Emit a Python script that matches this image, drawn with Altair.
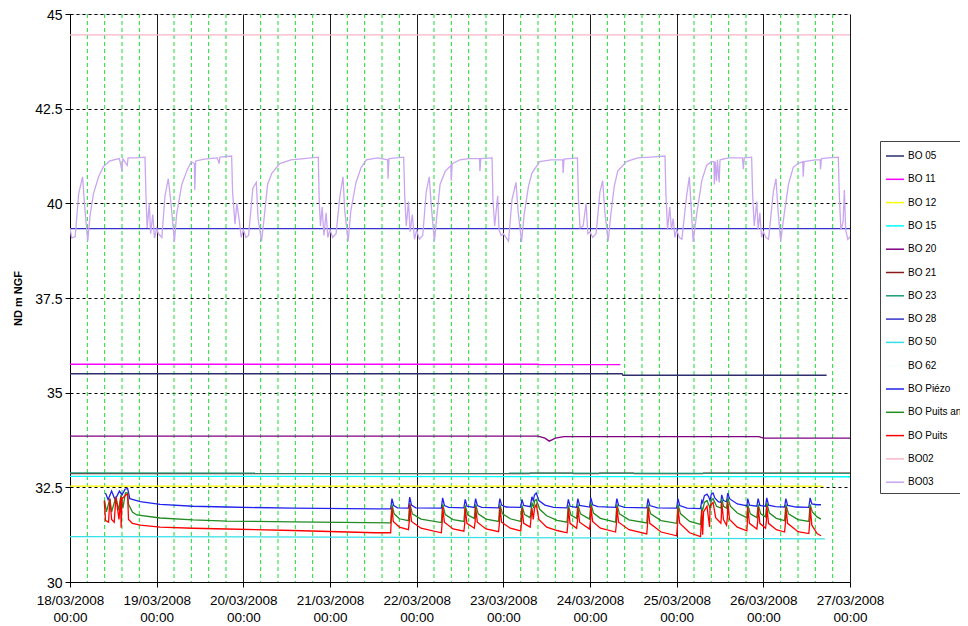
import altair as alt
import pandas as pd

# ---------------- data (time in days since 18/03/2008 00:00) ----------------
date_labels = ["18/03/2008", "19/03/2008", "20/03/2008", "21/03/2008", "22/03/2008",
               "23/03/2008", "24/03/2008", "25/03/2008", "26/03/2008", "27/03/2008"]
y_ticks = [30, 32.5, 35, 37.5, 40, 42.5, 45]

series_names = ["BO 05", "BO 11", "BO 12", "BO 15", "BO 20", "BO 21", "BO 23", "BO 28",
                "BO 50", "BO 62", "BO Piézo", "BO Puits ancien", "BO Puits", "BO02", "BO03"]
series_colors = ["#2E2E6E", "#FF00FF", "#FFFF00", "#00FFFF", "#800080", "#8B1A1A", "#1E9A7A",
                 "#3333CC", "#33E0E8", "#F2FFFF", "#2222EE", "#228B22", "#FF0000", "#F7B6C6",
                 "#C9A6F0"]

bo05 = [(0, 35.5), (6.37, 35.5), (6.38, 35.46), (8.73, 35.46)]
bo11 = [(0, 35.75), (5.4, 35.75), (5.42, 35.74), (6.35, 35.74)]
bo12 = [(0, 32.53), (8.69, 32.53)]
bo15 = [(0, 32.79), (9.0, 32.78)]
bo20 = [(0, 33.85), (5.40, 33.85), (5.48, 33.8), (5.53, 33.72), (5.60, 33.8), (5.70, 33.84),
        (7.95, 33.84), (8.0, 33.8), (9.0, 33.8)]
bo21 = [(0, 32.86), (5.30, 32.86), (5.31, 32.875), (5.80, 32.875), (5.81, 32.86), (6.10, 32.86),
        (6.11, 32.875), (6.50, 32.875), (6.51, 32.86), (7.30, 32.86), (7.31, 32.875), (9.0, 32.875)]
bo23 = [(0, 32.88), (9.0, 32.87)]
bo28 = [(0, 39.33), (9.0, 39.33)]
bo50 = [(0, 31.2), (4.0, 31.18), (8.71, 31.14)]
bo02 = [(0, 44.45), (9.0, 44.45)]

bo_piezo = [
    (0.41, 32.35), (0.44, 32.17), (0.48, 32.4), (0.52, 32.17), (0.57, 32.4), (0.60, 32.3),
    (0.635, 32.45), (0.665, 32.47), (0.69, 32.2), (0.81, 32.12), (1.04, 32.05), (1.42, 32.0),
    (1.81, 31.98), (2.57, 31.95), (3.52, 31.93), (3.70, 31.93),
    (3.715, 32.2), (3.735, 32.02), (3.78, 31.96),
    (3.905, 31.95), (3.92, 32.24), (3.94, 32.03), (3.99, 31.96),
    (4.285, 31.95), (4.30, 32.22), (4.32, 32.02), (4.37, 31.97),
    (4.545, 31.96), (4.56, 32.18), (4.58, 32.0),
    (4.665, 31.97), (4.68, 32.2), (4.70, 32.02), (4.75, 31.97),
    (4.945, 31.96), (4.96, 32.2), (4.98, 32.03), (5.03, 31.98),
    (5.20, 31.97), (5.215, 32.18), (5.235, 32.02),
    (5.31, 31.99), (5.33, 32.25), (5.345, 32.15), (5.36, 32.3), (5.38, 32.35), (5.41, 32.15),
    (5.48, 32.03), (5.58, 31.97),
    (5.735, 31.96), (5.75, 32.18), (5.77, 32.0),
    (5.845, 31.97), (5.86, 32.2), (5.88, 32.02),
    (5.995, 31.98), (6.01, 32.22), (6.03, 32.04), (6.09, 31.99),
    (6.295, 31.97), (6.31, 32.2), (6.33, 32.02), (6.40, 31.97),
    (6.655, 31.96), (6.67, 32.2), (6.69, 32.02), (6.78, 31.96),
    (7.0, 31.95), (7.015, 32.2), (7.035, 32.02), (7.12, 31.95),
    (7.275, 31.94), (7.29, 32.15), (7.30, 32.1), (7.32, 32.28), (7.35, 32.32), (7.37, 32.25),
    (7.385, 32.15), (7.40, 32.32), (7.42, 32.35), (7.44, 32.22), (7.48, 32.12),
    (7.51, 32.1), (7.52, 32.3), (7.54, 32.15), (7.575, 32.12), (7.59, 32.35), (7.61, 32.2),
    (7.70, 32.06), (7.80, 32.02),
    (7.81, 32.0), (7.82, 32.2), (7.84, 32.03),
    (7.925, 32.0), (7.94, 32.2), (7.96, 32.02),
    (8.025, 32.0), (8.04, 32.22), (8.06, 32.03), (8.14, 31.99),
    (8.245, 31.98), (8.26, 32.2), (8.28, 32.02), (8.38, 31.98),
    (8.525, 31.97), (8.54, 32.22), (8.56, 32.06), (8.62, 32.04), (8.665, 32.04)]

bo_puits_ancien = [
    (0.40, 32.15), (0.42, 31.85), (0.46, 32.2), (0.48, 31.85), (0.53, 32.25), (0.56, 31.9),
    (0.59, 32.3), (0.61, 31.95), (0.64, 32.35), (0.665, 32.35), (0.675, 32.05), (0.72, 31.85),
    (0.77, 31.77), (1.04, 31.69), (1.42, 31.64), (1.81, 31.61), (2.57, 31.59), (3.70, 31.56),
    (3.715, 32.05), (3.74, 31.8), (3.80, 31.67), (3.905, 31.62),
    (3.92, 32.08), (3.95, 31.8), (4.05, 31.66), (4.285, 31.57),
    (4.30, 32.05), (4.33, 31.78), (4.42, 31.65), (4.545, 31.6),
    (4.56, 32.02), (4.59, 31.77), (4.665, 31.68),
    (4.68, 32.05), (4.71, 31.8), (4.80, 31.66), (4.945, 31.6),
    (4.96, 32.05), (4.99, 31.8), (5.08, 31.67), (5.20, 31.6),
    (5.215, 32.02), (5.245, 31.78), (5.31, 31.7),
    (5.33, 32.1), (5.35, 31.95), (5.36, 32.15), (5.38, 32.18), (5.42, 31.92), (5.5, 31.75),
    (5.62, 31.63), (5.735, 31.58),
    (5.75, 32.02), (5.78, 31.77), (5.845, 31.68),
    (5.86, 32.05), (5.89, 31.8), (5.995, 31.66),
    (6.01, 32.08), (6.04, 31.82), (6.12, 31.68), (6.295, 31.58),
    (6.31, 32.05), (6.34, 31.8), (6.45, 31.64), (6.655, 31.56),
    (6.67, 32.05), (6.70, 31.8), (6.82, 31.62), (7.0, 31.55),
    (7.015, 32.05), (7.045, 31.8), (7.15, 31.6), (7.275, 31.52),
    (7.29, 31.95), (7.30, 31.9), (7.32, 32.1), (7.35, 32.15), (7.385, 31.95), (7.40, 32.15),
    (7.42, 32.2), (7.46, 32.0), (7.51, 31.95),
    (7.52, 32.2), (7.54, 32.0), (7.575, 31.95), (7.59, 32.22), (7.62, 32.0), (7.70, 31.82),
    (7.81, 31.7),
    (7.82, 32.05), (7.85, 31.8), (7.925, 31.7),
    (7.94, 32.05), (7.97, 31.8), (8.025, 31.72),
    (8.04, 32.08), (8.07, 31.82), (8.15, 31.68), (8.245, 31.62),
    (8.26, 32.05), (8.29, 31.8), (8.40, 31.65), (8.525, 31.6),
    (8.54, 32.05), (8.565, 31.85), (8.62, 31.72), (8.665, 31.66)]

bo_puits = [
    (0.395, 32.15), (0.41, 31.62), (0.445, 31.58), (0.46, 32.2), (0.48, 31.65), (0.51, 31.58),
    (0.53, 32.25), (0.565, 31.65), (0.585, 32.25), (0.59, 31.43), (0.60, 32.2), (0.645, 32.3),
    (0.665, 32.32), (0.675, 31.65), (0.72, 31.55), (0.81, 31.5), (1.04, 31.45), (1.42, 31.42),
    (1.81, 31.4), (2.57, 31.36), (3.52, 31.3), (3.70, 31.3),
    (3.705, 31.55), (3.715, 31.97), (3.73, 31.6), (3.8, 31.45), (3.905, 31.38),
    (3.915, 31.6), (3.92, 32.05), (3.94, 31.6), (4.05, 31.42), (4.285, 31.3),
    (4.295, 31.6), (4.30, 31.98), (4.32, 31.58), (4.42, 31.4), (4.545, 31.34),
    (4.555, 31.55), (4.56, 31.95), (4.58, 31.55), (4.665, 31.42),
    (4.675, 31.6), (4.68, 31.98), (4.70, 31.58), (4.80, 31.4), (4.945, 31.33),
    (4.955, 31.55), (4.96, 31.98), (4.98, 31.58), (5.08, 31.42), (5.20, 31.35),
    (5.21, 31.55), (5.215, 31.95), (5.235, 31.55), (5.31, 31.45),
    (5.33, 31.95), (5.345, 31.65), (5.36, 31.95), (5.38, 32.05), (5.41, 31.65), (5.5, 31.45),
    (5.62, 31.36), (5.735, 31.3),
    (5.745, 31.55), (5.75, 31.95), (5.77, 31.55), (5.845, 31.42),
    (5.855, 31.6), (5.86, 31.98), (5.88, 31.58), (5.995, 31.4),
    (6.005, 31.6), (6.01, 32.0), (6.03, 31.6), (6.12, 31.42), (6.295, 31.32),
    (6.305, 31.55), (6.31, 31.98), (6.33, 31.58), (6.45, 31.38), (6.655, 31.27),
    (6.665, 31.55), (6.67, 31.98), (6.69, 31.55), (6.82, 31.32), (7.0, 31.22),
    (7.01, 31.5), (7.015, 31.95), (7.035, 31.55), (7.15, 31.3), (7.275, 31.2),
    (7.285, 31.6), (7.29, 31.9), (7.30, 31.25), (7.31, 31.85), (7.35, 32.0), (7.38, 31.45),
    (7.385, 32.0), (7.40, 32.05), (7.42, 32.1), (7.45, 31.7), (7.51, 31.55),
    (7.515, 31.7), (7.52, 32.1), (7.54, 31.65), (7.575, 31.5), (7.585, 31.7), (7.59, 32.12),
    (7.61, 31.65), (7.70, 31.45), (7.81, 31.35),
    (7.815, 31.55), (7.82, 31.98), (7.84, 31.55), (7.925, 31.4),
    (7.935, 31.6), (7.94, 31.98), (7.96, 31.55), (8.025, 31.42),
    (8.035, 31.6), (8.04, 32.0), (8.06, 31.55), (8.15, 31.38), (8.245, 31.32),
    (8.255, 31.55), (8.26, 31.98), (8.28, 31.55), (8.40, 31.33), (8.525, 31.28),
    (8.535, 31.55), (8.54, 31.98), (8.56, 31.5), (8.62, 31.28), (8.665, 31.22)]

bo03 = [
    # 18/03
    (0.00, 39.34), (0.02, 39.08), (0.06, 39.12), (0.10, 40.25), (0.145, 40.7), (0.17, 39.9),
    (0.205, 39.0), (0.23, 39.65), (0.27, 40.25), (0.33, 40.7), (0.385, 40.97), (0.46, 41.12),
    (0.57, 41.18), (0.60, 40.85), (0.61, 41.18), (0.66, 41.0), (0.67, 41.2), (0.76, 41.2),
    (0.865, 41.22), (0.877, 40.2), (0.89, 39.35), (0.915, 40.0), (0.93, 39.2), (0.955, 39.7),
    (0.975, 39.08),
    # 19/03
    (1.00, 39.34), (1.02, 39.2), (1.06, 39.1), (1.096, 40.2), (1.134, 40.65), (1.165, 40.0),
    (1.205, 38.99), (1.23, 39.7), (1.29, 40.5), (1.35, 40.87), (1.40, 41.1), (1.435, 41.05),
    (1.44, 40.35), (1.45, 41.12), (1.55, 41.17), (1.70, 41.2), (1.72, 41.05), (1.73, 41.22),
    (1.865, 41.25), (1.876, 40.3), (1.904, 39.45), (1.925, 40.0), (1.953, 39.55), (1.975, 39.1),
    # 20/03
    (2.00, 39.3), (2.03, 39.1), (2.06, 39.15), (2.11, 40.4), (2.15, 40.55), (2.17, 39.6),
    (2.21, 39.0), (2.235, 39.5), (2.28, 40.5), (2.33, 40.8), (2.42, 41.05), (2.55, 41.15),
    (2.70, 41.18), (2.865, 41.22), (2.875, 40.1), (2.89, 39.4), (2.91, 39.9), (2.93, 39.15),
    (2.955, 39.75), (2.975, 39.1),
    # 21/03
    (3.00, 39.3), (3.03, 39.1), (3.07, 39.2), (3.115, 40.2), (3.15, 40.7), (3.17, 39.8),
    (3.21, 39.0), (3.24, 39.8), (3.30, 40.55), (3.36, 40.95), (3.42, 41.15), (3.55, 41.2),
    (3.665, 41.15), (3.67, 40.65), (3.68, 41.18), (3.85, 41.22), (3.862, 40.2), (3.88, 39.4),
    (3.905, 40.05), (3.925, 39.25), (3.95, 39.7), (3.975, 39.05),
    # 22/03
    (4.00, 39.3), (4.03, 39.05), (4.07, 39.15), (4.11, 40.3), (4.145, 40.7), (4.17, 39.9),
    (4.205, 39.0), (4.23, 39.6), (4.27, 40.5), (4.33, 40.85), (4.395, 41.0), (4.40, 40.6),
    (4.41, 41.05), (4.50, 41.15), (4.60, 41.18), (4.725, 41.18), (4.73, 40.85), (4.74, 41.18),
    (4.87, 41.2), (4.88, 40.1), (4.90, 39.4), (4.935, 40.2), (4.95, 39.3), (4.975, 39.15),
    # 23/03
    (5.00, 39.2), (5.03, 39.1), (5.06, 39.0), (5.10, 40.1), (5.146, 40.55), (5.17, 39.8),
    (5.21, 38.98), (5.24, 39.7), (5.29, 40.45), (5.33, 40.8), (5.42, 41.1), (5.55, 41.15),
    (5.685, 41.15), (5.69, 40.8), (5.70, 41.17), (5.855, 41.2), (5.867, 40.1), (5.885, 39.35),
    (5.92, 39.4), (5.955, 40.0), (5.975, 39.2),
    # 24/03
    (6.00, 39.25), (6.03, 39.1), (6.07, 39.2), (6.115, 40.3), (6.146, 40.6), (6.17, 39.8),
    (6.21, 39.0), (6.24, 39.7), (6.28, 40.45), (6.32, 40.85), (6.42, 41.1), (6.55, 41.2),
    (6.70, 41.22), (6.865, 41.25), (6.877, 40.2), (6.895, 39.3), (6.92, 39.9), (6.94, 39.3),
    (6.96, 39.6), (6.98, 39.1),
    # 25/03
    (7.00, 39.3), (7.03, 39.1), (7.06, 39.05), (7.115, 40.2), (7.146, 40.7), (7.17, 39.8),
    (7.19, 38.98), (7.23, 39.7), (7.29, 40.6), (7.345, 41.0), (7.40, 41.1), (7.43, 41.1),
    (7.435, 40.5), (7.445, 41.1), (7.46, 40.6), (7.47, 41.15), (7.49, 40.55), (7.50, 41.15),
    (7.60, 41.2), (7.76, 41.2), (7.77, 40.9), (7.78, 41.2), (7.865, 41.22), (7.877, 40.2),
    (7.895, 39.4), (7.925, 40.05), (7.94, 39.3), (7.96, 39.75), (7.98, 39.1),
    # 26/03
    (8.00, 39.25), (8.03, 39.1), (8.06, 39.05), (8.115, 40.3), (8.146, 40.65), (8.17, 39.8),
    (8.20, 39.0), (8.24, 39.7), (8.29, 40.5), (8.345, 40.95), (8.40, 41.05), (8.455, 41.1),
    (8.46, 40.7), (8.47, 41.1), (8.60, 41.15), (8.655, 41.15), (8.66, 40.9), (8.67, 41.18),
    (8.75, 41.2), (8.865, 41.22), (8.877, 40.2), (8.895, 39.3), (8.92, 39.5), (8.935, 40.35),
    (8.95, 39.3), (8.975, 39.05), (9.0, 39.12)]

series_data = {
    "BO 05": bo05, "BO 11": bo11, "BO 12": bo12, "BO 15": bo15, "BO 20": bo20,
    "BO 21": bo21, "BO 23": bo23, "BO 28": bo28, "BO 50": bo50, "BO 62": [],
    "BO Piézo": bo_piezo, "BO Puits ancien": bo_puits_ancien, "BO Puits": bo_puits,
    "BO02": bo02, "BO03": bo03,
}

rows = []
for k, name in enumerate(series_names):
    for i, (t, v) in enumerate(series_data[name]):
        rows.append({"series": name, "t": t, "v": v, "k": k, "i": i})
df = pd.DataFrame(rows)

minor_ticks = pd.DataFrame({"t": [d + f for d in range(9) for f in (0.2, 0.4, 0.6, 0.8)]})

# ---------------- chart ----------------
FONT = "Liberation Sans"
date_expr = "[" + ",".join("'%s'" % s for s in date_labels) + "]"

x_scale = alt.Scale(domain=[0, 9], nice=False, zero=False)
y_scale = alt.Scale(domain=[30, 45], nice=False, zero=False)

x_axis = alt.Axis(
    values=list(range(10)),
    labelExpr="[" + date_expr + "[datum.value], '00:00']",
    grid=True, gridColor="#1a1a1a", gridWidth=1, gridOpacity=1,
    tickSize=5, tickColor="#000", domainColor="#000",
    labelFont=FONT, labelFontSize=13.5, labelColor="#000", labelLineHeight=17,
    labelPadding=6, labelOverlap=False, labelFlush=False, title=None,
)
y_axis = alt.Axis(
    values=y_ticks, labelExpr="'' + datum.value",
    grid=True, gridColor="#000", gridDash=[3, 3], gridWidth=1, gridOpacity=1,
    tickSize=5, tickColor="#000", domainColor="#000",
    labelFont=FONT, labelFontSize=14, labelColor="#000", labelPadding=3, labelOffset=1,
    labelFlush=False, labelOverlap=False,
    title="ND m NGF", titleFont=FONT, titleFontSize=11, titleFontWeight="bold",
    titleColor="#000", titleX=-47, titleY=284,
)

rules = alt.Chart(minor_ticks).mark_rule(
    color="#19DD33", strokeDash=[4, 3], strokeWidth=1
).encode(x=alt.X("t:Q", scale=x_scale, axis=x_axis))

lines = alt.Chart(df).mark_line(strokeWidth=1.3, clip=True).encode(
    x=alt.X("t:Q", scale=x_scale, axis=x_axis),
    y=alt.Y("v:Q", scale=y_scale, axis=y_axis),
    color=alt.Color(
        "series:N",
        scale=alt.Scale(domain=series_names, range=series_colors),
        legend=alt.Legend(
            orient="none", legendX=810, legendY=127, direction="vertical", title=None,
            symbolType="stroke", symbolSize=324, symbolStrokeWidth=1.5,
            labelFont=FONT, labelFontSize=10, labelColor="#000", labelOffset=3,
            labelLimit=300, rowPadding=8.3, padding=5,
            strokeColor="#444", fillColor="white",
        ),
    ),
    detail="series:N",
    order=alt.Order("i:Q"),
)

chart = alt.layer(rules, lines).properties(
    width=780, height=568,
    padding={"left": 62, "top": 6, "right": 110, "bottom": 50},
    autosize=alt.AutoSizeParams(type="none"),
).configure_view(stroke="#333", strokeWidth=1).configure(font=FONT)

chart.save("out.html", embed_options={"renderer": "svg", "actions": False})
